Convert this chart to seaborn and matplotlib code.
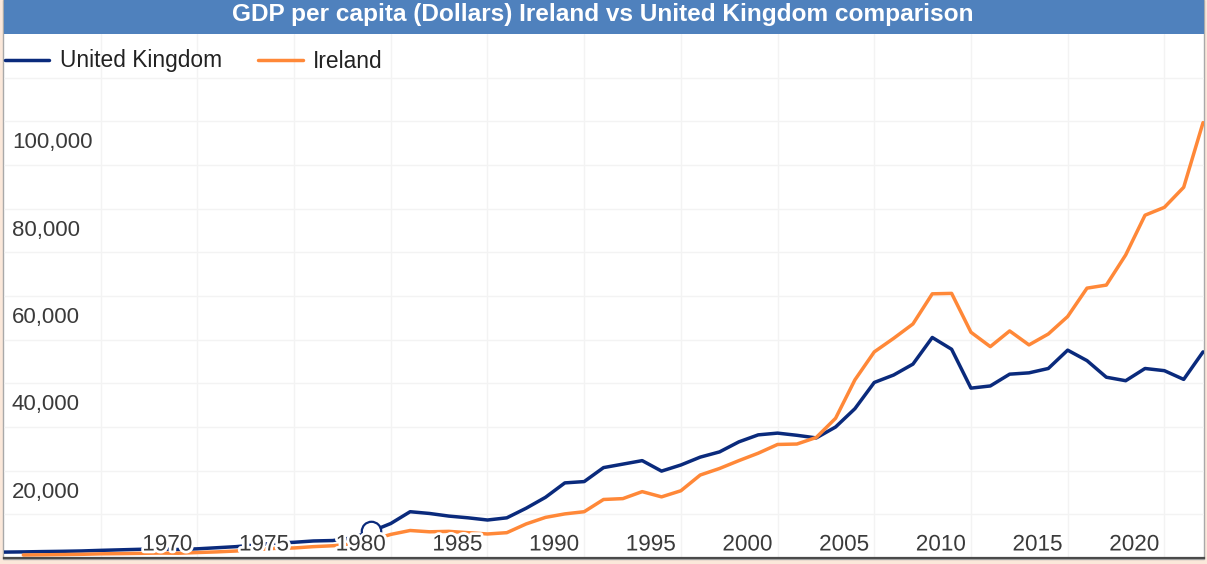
import matplotlib
matplotlib.use("Agg")
import matplotlib.pyplot as plt
import matplotlib.patches as mpatches
import matplotlib.transforms as mtransforms
import matplotlib.patheffects as pe
from matplotlib.lines import Line2D
import pandas as pd
import seaborn as sns

# ---------------- data ----------------
title = "GDP per capita (Dollars) Ireland vs United Kingdom comparison"
series_names = ["United Kingdom", "Ireland"]

uk_years = list(range(1959, 2022))
uk_values = [1350, 1400, 1470, 1530, 1610, 1750, 1870, 1990, 2060, 1950,
             2100, 2350, 2600, 3000, 3400, 3600, 3900, 4000, 4600, 6100,
             7900, 10600, 10200, 9600, 9200, 8700, 9200, 11400, 13900, 17200,
             17500, 20700, 21500, 22300, 19900, 21300, 23100, 24300, 26600, 28200,
             28600, 28100, 27500, 30000, 34200, 40200, 41900, 44400, 50500, 47800,
             38900, 39400, 42100, 42400, 43400, 47600, 45200, 41400, 40600, 43400,
             42900, 40900, 47200]

ie_years = list(range(1960, 2022))
ie_values = [690, 730, 780, 840, 950, 1000, 1060, 1130, 1090, 1250,
             1400, 1600, 1900, 2200, 2300, 2600, 2800, 3200, 4100, 5400,
             6300, 6000, 6100, 5800, 5500, 5800, 7800, 9300, 10100, 10600,
             13400, 13600, 15200, 14000, 15400, 19000, 20500, 22300, 24000, 26000,
             26100, 27600, 32000, 40800, 47200, 50300, 53600, 60500, 60600, 51700,
             48400, 52000, 48800, 51300, 55300, 61800, 62500, 69400, 78500, 80300,
             84900, 99700]

x_tick_labels = ["1970", "1975", "1980", "1985", "1990", "1995",
                 "2000", "2005", "2010", "2015", "2020"]
x_grid_years = [1964, 1969, 1974, 1979, 1984, 1989, 1994, 1999, 2004, 2009, 2014, 2019]
y_grid_values = [10000, 20000, 30000, 40000, 50000, 60000, 70000, 80000, 90000, 100000, 110000]
y_tick_values = [20000, 40000, 60000, 80000, 100000]
y_tick_labels = ["20,000", "40,000", "60,000", "80,000", "100,000"]
hover_series = "United Kingdom"
hover_year = 1978

# ---------------- style ----------------
NAVY = "#0a2a7c"
ORANGE = "#ff8838"
TITLE_BG = "#4f81bd"
OUTER_BG = "#fbe8da"
TEXT = "#3a3a3a"
label_shift = -2.55  # horizontal placement of year labels (as in the reference)

sns.set_theme(style="white")
plt.rcParams["font.family"] = ["Liberation Sans", "DejaVu Sans"]

W, H = 1207, 564
fig = plt.figure(figsize=(W / 100, H / 100), dpi=100, facecolor=OUTER_BG)


def fx(px):
    return px / W


def fy(py):
    return 1 - py / H


# white panel with thin grey border (behind the axes)
fig.patches.append(mpatches.Rectangle((fx(3), fy(559)), fx(1204) - fx(3), fy(0) - fy(559),
                                      transform=fig.transFigure, facecolor="white",
                                      edgecolor="#a9a9a9", lw=1.0, zorder=-5))
# title bar
fig.patches.append(mpatches.Rectangle((fx(4), fy(34)), fx(1204) - fx(4), fy(0) - fy(34),
                                      transform=fig.transFigure, facecolor=TITLE_BG,
                                      edgecolor="none", zorder=-4))
fig.text(fx(603), fy(21), title, ha="center", va="baseline", color="white",
         fontsize=17.6, fontweight="bold", zorder=2)

ax = fig.add_axes([fx(4), fy(558), 1200 / W, 524 / H])
ax.set_facecolor("none")
ax.set_zorder(1)

df = pd.concat([
    pd.DataFrame({"year": uk_years, "gdp": uk_values, "country": "United Kingdom"}),
    pd.DataFrame({"year": ie_years, "gdp": ie_values, "country": "Ireland"}),
], ignore_index=True)

sns.lineplot(data=df, x="year", y="gdp", hue="country", hue_order=series_names,
             palette=[NAVY, ORANGE], linewidth=2.5, estimator=None, legend=False,
             ax=ax, zorder=2)

# hover marker
hv = df[(df.country == hover_series) & (df.year == hover_year)].iloc[0]
ax.plot([hv.year], [hv.gdp], marker="o", ms=14, mfc="white", mec=NAVY, mew=1.6,
        zorder=3, clip_on=False)

ax.set_xlim(1959.0, 2021.05)
ax.set_ylim(0, 120000)
ax.set_xlabel("")
ax.set_ylabel("")

# grid / ticks
ax.set_yticks(y_grid_values)
ax.set_yticklabels([])
ax.set_xticks(x_grid_years)
ax.set_xticklabels([])
ax.set_xticks(list(range(1959, 2022)), minor=True)
ax.grid(True, which="major", color="#f3f3f3", lw=1.0, zorder=0)
ax.set_axisbelow(True)
ax.tick_params(axis="y", length=0)
ax.tick_params(axis="x", which="both", direction="in", length=4, width=1, color="#d4d4d4")

for s in ["top", "left", "right"]:
    ax.spines[s].set_visible(False)
ax.spines["bottom"].set_color("#4a4a4a")
ax.spines["bottom"].set_linewidth(1.6)

# y labels (inside plot, below their gridline)
ty = mtransforms.blended_transform_factory(ax.transAxes, ax.transData)
off_y = mtransforms.ScaledTranslation(8 / 100, -27 / 100, fig.dpi_scale_trans)
for v, lab in zip(y_tick_values, y_tick_labels):
    ax.text(0, v, lab, transform=ty + off_y, ha="left", va="baseline",
            fontsize=16, color=TEXT, zorder=4)

# x labels (inside plot with white halo)
tx = ax.get_xaxis_transform()
off_x = mtransforms.ScaledTranslation(0, 7.5 / 100, fig.dpi_scale_trans)
for lab in x_tick_labels:
    ax.text(int(lab) + label_shift, 0, lab, transform=tx + off_x, ha="center",
            va="baseline", fontsize=16.2, color=TEXT, zorder=5,
            path_effects=[pe.withStroke(linewidth=4, foreground="white")])

# legend
handles = [Line2D([], [], color=NAVY, lw=2.5), Line2D([], [], color=ORANGE, lw=2.5)]
leg = ax.legend(handles, series_names, loc="center left",
                bbox_to_anchor=((5 - 4) / 1200, (558 - 61) / 524), ncol=2,
                frameon=False, fontsize=16.4, handlelength=1.95, handletextpad=0.45,
                columnspacing=1.6, borderpad=0, borderaxespad=0)
for t in leg.get_texts():
    t.set_color("#222222")

fig.savefig("out.png", dpi=100, facecolor=fig.get_facecolor())
